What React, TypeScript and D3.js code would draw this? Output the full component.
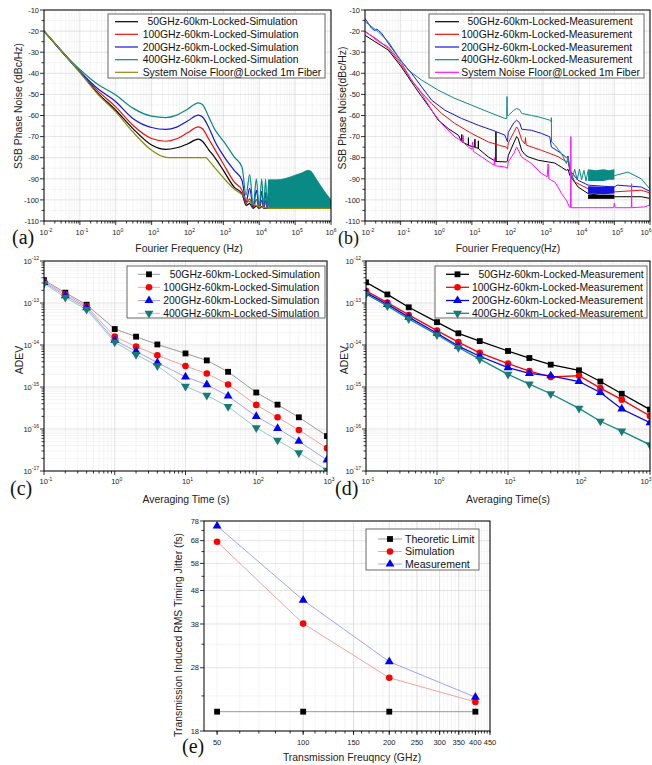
import React, { useRef, useEffect } from "react";
import * as d3 from "d3";

type Pt = [number, number];
type Band = [number, number, number];
type Box = { l: number; t: number; r: number; b: number };

const W = 652;
const H = 765;
const SANS = "'Liberation Sans', Arial, Helvetica, sans-serif";
const SERIF = "'Liberation Serif', 'Times New Roman', serif";

// ---------- (a) simulated SSB phase noise  [Hz, dBc/Hz]
const simNames = [
  "50GHz-60km-Locked-Simulation",
  "100GHz-60km-Locked-Simulation",
  "200GHz-60km-Locked-Simulation",
  "400GHz-60km-Locked-Simulation",
];
const floorName = "System Noise Floor@Locked 1m Fiber";

const sim50: Pt[] = [
  [0.01, -20], [0.1, -39.4], [0.3, -49], [1, -57.5], [3, -66.2], [10, -74], [25, -76.1], [50, -75.3],
  [100, -73.5], [200, -71.2], [260, -72.2], [400, -76.5], [560, -79.6], [1000, -86], [2000, -93.9],
  [3300, -97], [4300, -102.6], [5400, -101.8], [6800, -104], [8300, -102.8], [10000, -104],
  [11700, -103.2], [13300, -104], [1e6, -104],
];
const sim100: Pt[] = [
  [0.01, -20], [0.1, -39.3], [0.3, -48], [1, -55.9], [3, -64.6], [10, -70.9], [25, -72.2], [50, -71],
  [100, -68.2], [200, -65.4], [260, -66.3], [400, -71.5], [560, -75.7], [1000, -83], [2000, -91.5],
  [3300, -95.4], [4300, -101.8], [5400, -99.5], [6800, -103.8], [8300, -99.8], [10000, -104],
  [11700, -100.2], [13300, -104], [15000, -100.5], [16700, -104], [18300, -100.8], [20000, -104], [1e6, -104],
];
const sim200: Pt[] = [
  [0.01, -20], [0.1, -39.2], [0.3, -47], [1, -53.5], [3, -61.4], [10, -65.7], [25, -66.6], [50, -65.5],
  [100, -62.6], [200, -59.8], [260, -60.6], [400, -66], [560, -71.7], [1000, -79], [2000, -86],
  [3300, -90.7], [4300, -101], [5400, -94.5], [6800, -103.5], [8300, -95.5], [10000, -104],
  [11700, -96], [13300, -104], [15000, -96.5], [16700, -104], [18300, -97], [20000, -104],
  [21700, -97.5], [23300, -104], [1e6, -104],
];
const sim400: Pt[] = [
  [0.01, -20], [0.1, -38.2], [0.3, -45], [1, -50.3], [3, -56.5], [10, -60.3], [25, -61], [50, -59.8],
  [100, -57], [200, -54], [260, -54.8], [400, -61], [560, -66.2], [800, -70], [1200, -74], [2000, -79.6],
  [3300, -84.4], [4300, -97.8], [5400, -88], [6800, -103], [8300, -90], [10000, -104], [11700, -90],
  [13300, -104], [15000, -90], [16700, -104], [18300, -90.5], [20000, -104],
];
// dense oscillation of the 400GHz trace, drawn as its upper envelope
const sim400Env: Pt[] = [
  [18300, -90.5], [30000, -90.5], [50000, -90], [100000, -88.3], [150000, -87.3], [230000, -86],
  [270000, -86.3], [400000, -90.5], [600000, -95], [1000000, -100],
];
const simFloor: Pt[] = [
  [0.01, -20], [0.1, -39.6], [0.3, -49.5], [1, -58.3], [3, -67.8], [10, -76.5], [20, -79.4], [30, -80],
  [100, -80], [320, -80], [400, -81.5], [560, -84.5], [1000, -89.5], [2000, -94.8], [3300, -97.5],
  [5000, -100.5], [10000, -103.2], [20000, -104], [1e6, -104],
];

// ---------- (b) measured SSB phase noise
const measNames = [
  "50GHz-60km-Locked-Measurement",
  "100GHz-60km-Locked-Measurement",
  "200GHz-60km-Locked-Measurement",
  "400GHz-60km-Locked-Measurement",
];
const meas50: Pt[] = [
  [0.01, -22], [0.019, -25], [0.045, -29], [0.1, -36.5], [0.25, -46.4], [0.39, -51], [0.74, -57.5],
  [1.14, -62.2], [2.17, -66.2], [4.14, -69.3], [5.1, -72], [5.2, -69], [5.3, -72.5], [7.9, -74], [8, -70.5],
  [8.1, -74.2], [12, -75], [12.2, -71.2], [12.4, -75.2], [15, -75.5], [15.2, -72], [15.4, -75.8],
  [28.7, -79.6], [44, -81.5], [47, -81.8], [47.4, -67.8], [47.8, -81.8], [94, -82], [100, -81.5],
  [105, -79], [150, -73], [180, -70], [200, -71], [250, -76.5], [306, -78.5], [380, -79.6], [724, -81.2],
  [1380, -82], [2120, -82.5], [3270, -84.5], [4500, -86], [5000, -85.5], [5600, -88.3], [9600, -93.9],
  [18300, -97], [66400, -98.6], [1e5, -98.5], [5.7e5, -98.5], [1e6, -99.3],
];
const meas100: Pt[] = [
  [0.01, -20.3], [0.019, -23.2], [0.045, -28.2], [0.1, -35.5], [0.2, -43.2], [0.39, -49.2], [0.74, -54.3],
  [1.41, -59], [3.34, -63.8], [9.8, -68.5], [28.7, -72.5], [60, -74.2], [94, -75], [100, -76], [105, -73],
  [150, -68], [180, -65.4], [200, -66.5], [250, -71.5], [306, -73.5], [320, -70.5], [335, -74],
  [471, -74.9], [898, -76.5], [1540, -78], [2630, -79.5], [4510, -82], [5020, -81.5], [5600, -86],
  [7730, -91.5], [18300, -94.7], [1e5, -96.2], [5.7e5, -95.4], [1e6, -96.7],
];
const meas200: Pt[] = [
  [0.01, -14], [0.0124, -16.3], [0.0154, -18.7], [0.0191, -19.8], [0.0212, -19], [0.0236, -19.6],
  [0.0293, -21], [0.0451, -25.8], [0.107, -34.5], [0.203, -40], [0.388, -46.4], [0.74, -52.7],
  [1.75, -57.5], [5.13, -61.4], [15.1, -64.6], [44.2, -67.4], [84.2, -69.3], [100, -72.5], [105, -68],
  [150, -63.5], [180, -62.2], [220, -63.5], [250, -66.5], [471, -67], [898, -68.5], [1540, -70.1],
  [1700, -74.9], [3270, -78], [4510, -80], [5020, -79.2], [5600, -86], [9580, -90.7], [18300, -93],
  [1e5, -93.9], [1.2e5, -93], [5.7e5, -93.9], [1e6, -96],
];
const meas400: Pt[] = [
  [0.01, -15.5], [0.0154, -17.9], [0.0236, -20.3], [0.0364, -23.5], [0.0451, -25], [0.0861, -32.2],
  [0.164, -38.5], [0.388, -43.2], [1.14, -48], [3.34, -51.9], [9.8, -55.1], [28.7, -58.3], [84, -61.4],
  [95, -61.5], [97, -51], [99, -60], [105, -60], [150, -57.5], [180, -56.7], [220, -57.3], [250, -59],
  [471, -60], [724, -60.6], [1540, -62.2], [1690, -63], [1700, -61], [1720, -72.5], [2120, -74],
  [3270, -78], [4510, -82.8], [5020, -79.6], [5600, -85.5], [6500, -90], [7700, -85.5], [9000, -90.5],
  [10500, -85.5], [12000, -90.5], [14000, -86], [16000, -91], [18300, -86], [1e5, -88.5],
  [2.4e5, -86.8], [5.7e5, -90], [9.7e5, -94.7], [9.8e5, -79.6], [9.9e5, -95.2], [1e6, -95.5],
];
const measFloor: Pt[] = [
  [0.01, -20], [0.0154, -22.4], [0.0236, -25], [0.0451, -27.4], [0.107, -35.3], [0.203, -43.2],
  [0.388, -49.6], [0.74, -57.5], [1.41, -63.8], [3.34, -70.1], [5.5, -72.5], [5.7, -69.5], [5.9, -73],
  [7.89, -74.9], [10, -76], [10.5, -72.5], [11, -77], [18.7, -79.6], [35.6, -82.8], [42, -83.5],
  [43, -80], [44, -83.8], [84.2, -84.4], [100, -85], [105, -82], [150, -78], [180, -74.9], [210, -77],
  [247, -79.6], [471, -82.8], [898, -87.5], [1300, -89], [1380, -83], [1450, -90], [1710, -90.7],
  [2120, -91.5], [2630, -93.9], [3270, -97], [4510, -100.2], [5500, -103.4], [5900, -103.6], [6000, -70],
  [6100, -103.7], [9.5e4, -103.7], [1e5, -101.5], [1.05e5, -103.7], [3e5, -103.7], [3.05e5, -92.3],
  [3.1e5, -103.7], [7e5, -103.3], [9.7e5, -102.5], [9.8e5, -89], [9.9e5, -102.5], [1e6, -102.5],
];
// dense oscillation bands  [Hz, low dB, high dB]
const band400B: Band[] = [
  [18300, -91, -85.5], [30000, -91, -86], [50000, -91, -85.5], [70000, -90.5, -86], [1e5, -90.5, -85.5],
];
const band200B: Band[] = [[18300, -97, -93.5], [50000, -97.3, -93.8], [1e5, -97, -93.5]];
const band50B: Band[] = [[18300, -99.5, -97.5], [1e5, -99.5, -97.5]];

// ---------- (c)/(d) Allan deviation
const tau = [0.1, 0.2, 0.4, 1, 2, 4, 10, 20, 40, 100, 200, 400, 1000];
const adevSim50 = [3.5e-13, 1.76e-13, 9.1e-14, 2.4e-14, 1.58e-14, 1.03e-14, 6.3e-15, 4.3e-15, 2.3e-15, 7.4e-16, 3.8e-16, 1.9e-16, 6.8e-17];
const adevSim100 = [3.3e-13, 1.63e-13, 8.3e-14, 1.58e-14, 9.2e-15, 5.7e-15, 3.15e-15, 2.1e-15, 1.15e-15, 3.75e-16, 1.9e-16, 9.5e-17, 3.5e-17];
const adevSim200 = [3.1e-13, 1.49e-13, 7.7e-14, 1.3e-14, 7.1e-15, 3.8e-15, 1.74e-15, 1.14e-15, 6.1e-16, 2.0e-16, 1.03e-16, 5.1e-17, 1.83e-17];
const adevSim400 = [2.9e-13, 1.36e-13, 7.0e-14, 1.17e-14, 5.9e-15, 3.2e-15, 1.04e-15, 6.3e-16, 3.4e-16, 1.07e-16, 5.4e-17, 2.7e-17, 1.04e-17];
const adevMeas50 = [3.1e-13, 1.6e-13, 7.9e-14, 3.5e-14, 1.9e-14, 1.24e-14, 7.2e-15, 4.9e-15, 3.4e-15, 2.5e-15, 1.35e-15, 6.9e-16, 2.9e-16];
const adevMeas100 = [1.96e-13, 1.02e-13, 5.2e-14, 2.2e-14, 1.17e-14, 6.5e-15, 3.6e-15, 2.4e-15, 1.74e-15, 1.85e-15, 9.4e-16, 5.0e-16, 2.05e-16];
const adevMeas200 = [1.76e-13, 9.3e-14, 4.6e-14, 1.9e-14, 9.4e-15, 5.4e-15, 2.9e-15, 2.1e-15, 1.85e-15, 1.35e-15, 7.4e-16, 3.0e-16, 1.42e-16];
const adevMeas400 = [1.63e-13, 8.5e-14, 4.2e-14, 1.75e-14, 8.7e-15, 4.6e-15, 2.0e-15, 1.17e-15, 6.9e-16, 3.1e-16, 1.53e-16, 8.9e-17, 4.2e-17];

// ---------- (e) timing jitter
const jitterNames = ["Theoretic Limit", "Simulation", "Measurement"];
const carrier = [50, 100, 200, 400];
const jitterTheory = [20.6, 20.6, 20.6, 20.6];
const jitterSim = [67.5, 38.1, 26.1, 22.05];
const jitterMeas = [75.3, 44.9, 29.2, 22.8];

// ---------- ticks
const dbTicks = [-10, -20, -30, -40, -50, -60, -70, -80, -90, -100, -110];
const dbMinor = [-15, -25, -35, -45, -55, -65, -75, -85, -95, -105];
const freqExp = [-2, -1, 0, 1, 2, 3, 4, 5, 6];
const tauExp = [-1, 0, 1, 2, 3];
const adevExp = [-12, -13, -14, -15, -16, -17];
const jitterTicks = [18, 28, 38, 48, 58, 68, 78];
const jitterMinor = [23, 33, 43, 53, 63, 73];
const carrierTicks = [50, 100, 150, 200, 250, 300, 350, 400, 450];

const boxA: Box = { l: 44, t: 10, r: 331, b: 221 };
const boxB: Box = { l: 365, t: 10, r: 650, b: 221 };
const boxC: Box = { l: 44, t: 261, r: 327, b: 471 };
const boxD: Box = { l: 366, t: 261, r: 650, b: 471 };
const boxE: Box = { l: 204, t: 521, r: 490, b: 731 };

const GRID_MAJ = "#d2d2d2";
const GRID_MIN = "#ececec";

function logMinors(e0: number, e1: number) {
  const out: number[] = [];
  for (let e = e0; e < e1; e++) for (let m = 2; m <= 9; m++) out.push(m * Math.pow(10, e));
  return out;
}

function grid(g: any, b: Box, xs: number[], ys: number[], color: string) {
  g.append("g").selectAll("line").data(xs).join("line")
    .attr("x1", (d: number) => d).attr("x2", (d: number) => d).attr("y1", b.t).attr("y2", b.b)
    .attr("stroke", color).attr("stroke-width", 0.6);
  g.append("g").selectAll("line").data(ys).join("line")
    .attr("x1", b.l).attr("x2", b.r).attr("y1", (d: number) => d).attr("y2", (d: number) => d)
    .attr("stroke", color).attr("stroke-width", 0.6);
}

function ticks(g: any, b: Box, xMaj: number[], xMin: number[], yMaj: number[], yMin: number[]) {
  const t = g.append("g").attr("stroke", "#000").attr("stroke-width", 0.8);
  xMaj.forEach((x) => t.append("line").attr("x1", x).attr("x2", x).attr("y1", b.b).attr("y2", b.b + 4));
  xMin.forEach((x) => t.append("line").attr("x1", x).attr("x2", x).attr("y1", b.b).attr("y2", b.b + 2.5));
  yMaj.forEach((y) => t.append("line").attr("x1", b.l - 4).attr("x2", b.l).attr("y1", y).attr("y2", y));
  yMin.forEach((y) => t.append("line").attr("x1", b.l - 2.5).attr("x2", b.l).attr("y1", y).attr("y2", y));
}

function frame(g: any, b: Box) {
  g.append("rect").attr("x", b.l).attr("y", b.t).attr("width", b.r - b.l).attr("height", b.b - b.t)
    .attr("fill", "none").attr("stroke", "#000").attr("stroke-width", 1);
}

function powLabel(g: any, x: number, y: number, exp: number, anchor: string) {
  // keep the last label of the right-hand panels inside the page
  let ax = x;
  let an = anchor;
  if (anchor === "middle" && x + 9 > W) { ax = W - 0.5; an = "end"; }
  const t = g.append("text").attr("x", ax).attr("y", y).attr("text-anchor", an)
    .attr("font-family", SANS).attr("font-size", 7.5).attr("fill", "#222");
  t.append("tspan").text("10");
  t.append("tspan").attr("dy", -3.5).attr("font-size", 5).text(String(exp));
}

function plainLabel(g: any, x: number, y: number, s: string, anchor: string) {
  g.append("text").attr("x", x).attr("y", y).attr("text-anchor", anchor)
    .attr("font-family", SANS).attr("font-size", 7.5).attr("fill", "#222").text(s);
}

function xTitle(g: any, x: number, y: number, s: string) {
  g.append("text").attr("x", x).attr("y", y).attr("text-anchor", "middle")
    .attr("font-family", SANS).attr("font-size", 10.4).attr("fill", "#222").text(s);
}

function yTitle(g: any, x: number, y: number, s: string) {
  g.append("text").attr("transform", `translate(${x},${y}) rotate(-90)`).attr("text-anchor", "middle")
    .attr("font-family", SANS).attr("font-size", 10.4).attr("fill", "#222").text(s);
}

function panelLetter(g: any, x: number, y: number, s: string, size = 20) {
  g.append("text").attr("x", x).attr("y", y).attr("font-family", SERIF).attr("font-size", size)
    .attr("fill", "#111").text(s);
}

function legendBox(g: any, x: number, y: number, w: number, h: number) {
  g.append("rect").attr("x", x).attr("y", y).attr("width", w).attr("height", h)
    .attr("fill", "#fff").attr("stroke", "#444").attr("stroke-width", 0.8);
}

function marker(g: any, kind: string, x: number, y: number, color: string, size = 34) {
  const sym = kind === "square" ? d3.symbolSquare : kind === "circle" ? d3.symbolCircle : d3.symbolTriangle;
  const rot = kind === "down" ? " rotate(180)" : "";
  g.append("path").attr("d", d3.symbol().type(sym).size(size)())
    .attr("transform", `translate(${x},${y})${rot}`).attr("fill", color);
}

function legendRow(g: any, y: number, x1: number, x2: number, tx: number, label: string,
  stroke: string, sw: number, mk?: string, mkColor?: string, fs = 10.4) {
  g.append("line").attr("x1", x1).attr("x2", x2).attr("y1", y).attr("y2", y)
    .attr("stroke", stroke).attr("stroke-width", sw);
  if (mk) marker(g, mk, (x1 + x2) / 2, y, mkColor || stroke);
  g.append("text").attr("x", tx).attr("y", y + 3.6).attr("font-family", SANS).attr("font-size", fs)
    .attr("fill", "#111").text(label);
}

function clip(svg: any, id: string, b: Box) {
  svg.select("defs").append("clipPath").attr("id", id).append("rect")
    .attr("x", b.l).attr("y", b.t).attr("width", b.r - b.l).attr("height", b.b - b.t);
}

export default function App() {
  const ref = useRef<SVGSVGElement>(null);

  useEffect(() => {
    const svg = d3.select(ref.current);
    svg.selectAll("*").remove();
    svg.append("defs");
    svg.append("rect").attr("width", W).attr("height", H).attr("fill", "#fff");

    // ---------------- (a)
    {
      const b = boxA;
      const x = d3.scaleLog().domain([1e-2, 1e6]).range([b.l, b.r]);
      const y = d3.scaleLinear().domain([-110, -10]).range([b.b, b.t]);
      const g = svg.append("g");
      clip(svg, "clipA", b);
      grid(g, b, logMinors(-2, 6).map(x), dbMinor.map(y), GRID_MIN);
      grid(g, b, freqExp.map((e) => x(Math.pow(10, e))), dbTicks.map(y), GRID_MAJ);
      const data = g.append("g").attr("clip-path", "url(#clipA)");
      const line = d3.line<Pt>().x((d) => x(d[0])).y((d) => y(d[1])).curve(d3.curveMonotoneX);
      const series: [Pt[], string][] = [[sim50, "#000"], [sim100, "#f01010"], [sim200, "#1515e0"], [sim400, "#0a8a85"]];
      series.forEach(([pts, c]) => data.append("path").attr("d", line(pts)).attr("fill", "none")
        .attr("stroke", c).attr("stroke-width", 1.2));
      const area = d3.area<Pt>().x((d) => x(d[0])).y0(y(-104)).y1((d) => y(d[1])).curve(d3.curveMonotoneX);
      data.append("path").attr("d", area(sim400Env)).attr("fill", "#0a8a85").attr("stroke", "#0a8a85").attr("stroke-width", 0.8);
      data.append("path").attr("d", line(simFloor)).attr("fill", "none").attr("stroke", "#8a8a10").attr("stroke-width", 1.2);
      frame(g, b);
      ticks(g, b, freqExp.map((e) => x(Math.pow(10, e))), logMinors(-2, 6).map(x), dbTicks.map(y), dbMinor.map(y));
      freqExp.forEach((e) => powLabel(g, x(Math.pow(10, e)) + (e === 6 ? 0 : 2), b.b + 14, e, "middle"));
      dbTicks.forEach((v) => plainLabel(g, b.l - 5, y(v) + 2.7, String(v), "end"));
      xTitle(g, 189, 252, "Fourier Frequency (Hz)");
      yTitle(g, 22, 106, "SSB Phase Noise (dBc/Hz)");
      panelLetter(g, 12, 244, "(a)");

      const lg = g.append("g");
      legendBox(lg, 108, 14, 217, 64);
      const cols = ["#000", "#f01010", "#1515e0", "#0a8a85", "#8a8a10"];
      const names = [...simNames, floorName];
      const rows = [21.7, 34.3, 47, 59.7, 72.3];
      names.forEach((n, i) => legendRow(lg, rows[i], 115, 138, i === 0 ? 147.5 : 142.7, n, cols[i], 1.2));
    }

    // ---------------- (b)
    {
      const b = boxB;
      const x = d3.scaleLog().domain([1e-2, 1e6]).range([b.l, b.r]);
      const y = d3.scaleLinear().domain([-110, -10]).range([b.b, b.t]);
      const g = svg.append("g");
      clip(svg, "clipB", b);
      grid(g, b, logMinors(-2, 6).map(x), dbMinor.map(y), GRID_MIN);
      grid(g, b, freqExp.map((e) => x(Math.pow(10, e))), dbTicks.map(y), GRID_MAJ);
      const data = g.append("g").attr("clip-path", "url(#clipB)");
      const line = d3.line<Pt>().x((d) => x(d[0])).y((d) => y(d[1]));
      const band = d3.area<Band>().x((d) => x(d[0])).y0((d) => y(d[1])).y1((d) => y(d[2]));
      const draw = (pts: Pt[], c: string) => data.append("path").attr("d", line(pts)).attr("fill", "none")
        .attr("stroke", c).attr("stroke-width", 1);
      draw(meas50, "#000");
      data.append("path").attr("d", band(band50B)).attr("fill", "#000");
      draw(meas100, "#f01010");
      draw(meas200, "#1515e0");
      data.append("path").attr("d", band(band200B)).attr("fill", "#1515e0");
      draw(meas400, "#0a8a85");
      data.append("path").attr("d", band(band400B)).attr("fill", "#0a8a85");
      draw(measFloor, "#ff10ff");
      frame(g, b);
      ticks(g, b, freqExp.map((e) => x(Math.pow(10, e))), logMinors(-2, 6).map(x), dbTicks.map(y), dbMinor.map(y));
      freqExp.forEach((e) => powLabel(g, x(Math.pow(10, e)) + 3, b.b + 14, e, "middle"));
      dbTicks.forEach((v) => plainLabel(g, b.l - 5, y(v) + 2.7, String(v), "end"));
      xTitle(g, 508, 252, "Fourier Frequency(Hz)");
      yTitle(g, 346, 108, "SSB Phase Noise(dBc/Hz)");
      panelLetter(g, 338, 244, "(b)", 18);

      const lg = g.append("g");
      legendBox(lg, 429, 14, 215, 64);
      const cols = ["#000", "#f01010", "#1515e0", "#0a8a85", "#ff10ff"];
      const names = [...measNames, floorName];
      const rows = [21.7, 34.3, 47, 59.7, 72.3];
      names.forEach((n, i) => legendRow(lg, rows[i], 435, 459, i === 0 ? 467.5 : 461.3, n, cols[i], 1.2));
    }

    // ---------------- (c) and (d)
    const adevPanel = (b: Box, id: string, sets: number[][], lineCols: string[], lineW: number,
      names: string[], legendX: number, legendW: number, lineX: [number, number], textX: number,
      xt: [number, string], yt: number, letter: [number, string]) => {
      const x = d3.scaleLog().domain([0.1, 1000]).range([b.l, b.r]);
      const y = d3.scaleLog().domain([1e-17, 1e-12]).range([b.b, b.t]);
      const g = svg.append("g");
      clip(svg, id, b);
      grid(g, b, logMinors(-1, 3).map(x), logMinors(-17, -12).map(y), GRID_MIN);
      grid(g, b, tauExp.map((e) => x(Math.pow(10, e))), adevExp.map((e) => y(Math.pow(10, e))), GRID_MAJ);
      const data = g.append("g").attr("clip-path", `url(#${id})`);
      const markCols = ["#000", "#ff0000", "#0000ff", "#167a76"];
      const marks = ["square", "circle", "up", "down"];
      const line = d3.line<number>().x((_, i) => x(tau[i])).y((d) => y(d));
      sets.forEach((s, k) => {
        data.append("path").attr("d", line(s)).attr("fill", "none").attr("stroke", lineCols[k]).attr("stroke-width", lineW);
      });
      sets.forEach((s, k) => s.forEach((v, i) => marker(data, marks[k], x(tau[i]), y(v), markCols[k])));
      frame(g, b);
      ticks(g, b, tauExp.map((e) => x(Math.pow(10, e))), logMinors(-1, 3).map(x),
        adevExp.map((e) => y(Math.pow(10, e))), logMinors(-17, -12).map(y));
      tauExp.forEach((e) => powLabel(g, x(Math.pow(10, e)) + 2, b.b + 13, e, "middle"));
      adevExp.forEach((e) => powLabel(g, b.l - 5, y(Math.pow(10, e)) + 2.7, e, "end"));
      xTitle(g, xt[0], 503, xt[1]);
      yTitle(g, yt, 360, "ADEV");
      panelLetter(g, letter[0], 495, letter[1]);

      const lg = g.append("g");
      legendBox(lg, legendX, 266, legendW, 52);
      const rows = [274.3, 287.3, 300.5, 313.3];
      names.forEach((n, k) => legendRow(lg, rows[k], lineX[0], lineX[1], k === 0 ? textX + 6.5 : textX, n,
        lineCols[k], lineW, marks[k], markCols[k]));
    };

    adevPanel(boxC, "clipC", [adevSim50, adevSim100, adevSim200, adevSim400],
      ["#808080", "#f08a8a", "#8a8af5", "#7fbcbc"], 0.8, simNames, 127, 198, [138, 160], 163.3,
      [186, "Averaging Time (s)"], 23, [10, "(c)"]);
    adevPanel(boxD, "clipD", [adevMeas50, adevMeas100, adevMeas200, adevMeas400],
      ["#000", "#ff0000", "#0000ff", "#108a85"], 1.3, measNames, 435, 212, [446, 469], 472,
      [508, "Averaging Time(s)"], 348, [335, "(d)"]);

    // ---------------- (e)
    {
      const b = boxE;
      const x = d3.scaleLog().domain([45, 450]).range([b.l, b.r]);
      const y = d3.scaleLog().domain([18, 78]).range([b.b, b.t]);
      const g = svg.append("g");
      clip(svg, "clipE", b);
      const xMinor = d3.range(50, 451, 10);
      grid(g, b, xMinor.map(x), jitterMinor.map(y), GRID_MIN);
      grid(g, b, carrierTicks.slice(1).map(x), jitterTicks.map(y), GRID_MAJ);
      const data = g.append("g").attr("clip-path", "url(#clipE)");
      const sets = [jitterTheory, jitterSim, jitterMeas];
      const lineCols = ["#808080", "#f08a8a", "#8a8af5"];
      const markCols = ["#000", "#ff0000", "#0000ff"];
      const marks = ["square", "circle", "up"];
      const line = d3.line<number>().x((_, i) => x(carrier[i])).y((d) => y(d));
      sets.forEach((s, k) => data.append("path").attr("d", line(s)).attr("fill", "none")
        .attr("stroke", lineCols[k]).attr("stroke-width", 0.8));
      sets.forEach((s, k) => s.forEach((v, i) => marker(data, marks[k], x(carrier[i]), y(v), markCols[k])));
      frame(g, b);
      ticks(g, b, carrierTicks.map(x), xMinor.map(x), jitterTicks.map(y), jitterMinor.map(y));
      carrierTicks.forEach((v) => plainLabel(g, x(v), b.b + 14, String(v), "middle"));
      jitterTicks.forEach((v) => plainLabel(g, b.l - 5, y(v) + 2.7, String(v), "end"));
      xTitle(g, 352, 761, "Transmission Freuqncy (GHz)");
      yTitle(g, 182, 635, "Transmission Induced RMS Timing Jitter (fs)");
      panelLetter(g, 182, 753, "(e)");

      const lg = g.append("g");
      legendBox(lg, 366, 529, 113, 41);
      const rows = [539, 551.5, 564];
      jitterNames.forEach((n, k) => legendRow(lg, rows[k], 378, 402, 405, n, lineCols[k], 0.8, marks[k], markCols[k], 10.6));
    }
  }, []);

  return (
    <svg ref={ref} width={W} height={H}
      style={{ position: "absolute", left: 0, top: 0, display: "block", background: "#fff" }} />
  );
}
